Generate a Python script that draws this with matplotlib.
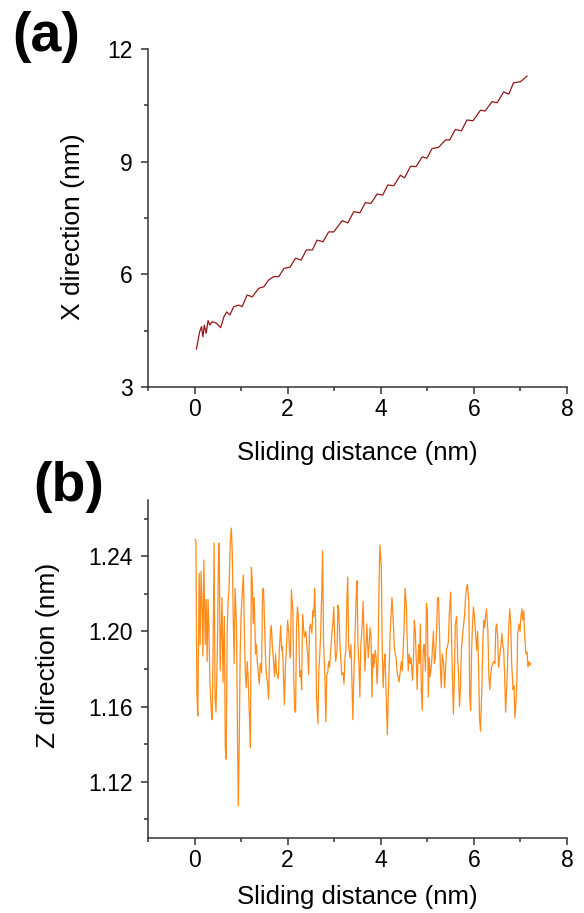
import numpy as np
import matplotlib.pyplot as plt

plt.rcParams['font.family'] = ['Liberation Sans', 'DejaVu Sans']

# (a) X direction vs sliding distance
dist_a = [0.04, 0.07, 0.11, 0.15, 0.18, 0.21, 0.25, 0.29, 0.33, 0.38,
          0.47, 0.56, 0.63, 0.69, 0.76, 0.84, 0.95, 1.02, 1.13, 1.24,
          1.38, 1.49, 1.59, 1.70, 1.81, 1.92, 2.05, 2.17, 2.29, 2.40,
          2.53, 2.63, 2.76, 2.88, 2.99, 3.17, 3.29, 3.42, 3.55, 3.67,
          3.79, 3.92, 4.04, 4.15, 4.28, 4.42, 4.51, 4.64, 4.76, 4.89,
          4.99, 5.10, 5.24, 5.39, 5.48, 5.60, 5.73, 5.85, 5.98, 6.14,
          6.24, 6.39, 6.50, 6.64, 6.75, 6.85, 7.00, 7.14]
x_dir = [4.01, 4.21, 4.47, 4.61, 4.34, 4.65, 4.43, 4.77, 4.65, 4.74,
         4.70, 4.58, 4.87, 5.00, 4.92, 5.14, 5.18, 5.14, 5.45, 5.40,
         5.63, 5.67, 5.85, 5.94, 5.94, 6.16, 6.19, 6.43, 6.38, 6.65,
         6.65, 6.91, 6.87, 7.13, 7.13, 7.43, 7.37, 7.67, 7.64, 7.91,
         7.89, 8.14, 8.11, 8.38, 8.36, 8.64, 8.57, 8.88, 8.87, 9.13,
         9.09, 9.35, 9.38, 9.58, 9.58, 9.86, 9.82, 10.11, 10.09, 10.37,
         10.35, 10.60, 10.57, 10.86, 10.80, 11.10, 11.13, 11.28]

# (b) Z direction vs sliding distance
dist_b = [0.01, 0.03, 0.05, 0.07, 0.10, 0.12, 0.14, 0.16, 0.18, 0.20,
          0.23, 0.25, 0.27, 0.29, 0.31, 0.33, 0.36, 0.38, 0.40, 0.42,
          0.44, 0.46, 0.49, 0.51, 0.53, 0.55, 0.57, 0.59, 0.61, 0.64,
          0.66, 0.68, 0.70, 0.72, 0.74, 0.77, 0.79, 0.81, 0.83, 0.85,
          0.87, 0.90, 0.92, 0.94, 0.96, 0.98, 1.00, 1.03, 1.05, 1.07,
          1.09, 1.11, 1.13, 1.15, 1.18, 1.20, 1.22, 1.24, 1.26, 1.28,
          1.31, 1.33, 1.35, 1.37, 1.39, 1.41, 1.44, 1.46, 1.48, 1.50,
          1.52, 1.54, 1.57, 1.59, 1.61, 1.63, 1.65, 1.67, 1.69, 1.72,
          1.74, 1.76, 1.78, 1.80, 1.82, 1.85, 1.87, 1.89, 1.91, 1.93,
          1.95, 1.98, 2.00, 2.02, 2.04, 2.06, 2.08, 2.11, 2.13, 2.15,
          2.17, 2.19, 2.21, 2.23, 2.26, 2.28, 2.30, 2.32, 2.34, 2.36,
          2.39, 2.41, 2.43, 2.45, 2.47, 2.49, 2.52, 2.54, 2.56, 2.58,
          2.60, 2.62, 2.65, 2.67, 2.69, 2.71, 2.73, 2.75, 2.77, 2.80,
          2.82, 2.84, 2.86, 2.88, 2.90, 2.93, 2.95, 2.97, 2.99, 3.01,
          3.03, 3.06, 3.08, 3.10, 3.12, 3.14, 3.16, 3.19, 3.21, 3.23,
          3.25, 3.27, 3.29, 3.31, 3.34, 3.36, 3.38, 3.40, 3.42, 3.44,
          3.47, 3.49, 3.51, 3.53, 3.55, 3.57, 3.60, 3.62, 3.64, 3.66,
          3.68, 3.70, 3.73, 3.75, 3.77, 3.79, 3.81, 3.83, 3.85, 3.88,
          3.90, 3.92, 3.94, 3.96, 3.98, 4.01, 4.03, 4.05, 4.07, 4.09,
          4.11, 4.14, 4.16, 4.18, 4.20, 4.22, 4.24, 4.27, 4.29, 4.31,
          4.33, 4.35, 4.37, 4.39, 4.42, 4.44, 4.46, 4.48, 4.50, 4.52,
          4.55, 4.57, 4.59, 4.61, 4.63, 4.65, 4.68, 4.70, 4.72, 4.74,
          4.76, 4.78, 4.81, 4.83, 4.85, 4.87, 4.89, 4.91, 4.93, 4.96,
          4.98, 5.00, 5.02, 5.04, 5.06, 5.09, 5.11, 5.13, 5.15, 5.17,
          5.19, 5.22, 5.24, 5.26, 5.28, 5.30, 5.32, 5.35, 5.37, 5.39,
          5.41, 5.43, 5.45, 5.47, 5.50, 5.52, 5.54, 5.56, 5.58, 5.60,
          5.63, 5.65, 5.67, 5.69, 5.71, 5.73, 5.76, 5.78, 5.80, 5.82,
          5.84, 5.86, 5.89, 5.91, 5.93, 5.95, 5.97, 5.99, 6.01, 6.04,
          6.06, 6.08, 6.10, 6.12, 6.14, 6.17, 6.19, 6.21, 6.23, 6.25,
          6.27, 6.30, 6.32, 6.34, 6.36, 6.38, 6.40, 6.43, 6.45, 6.47,
          6.49, 6.51, 6.53, 6.55, 6.58, 6.60, 6.62, 6.64, 6.66, 6.68,
          6.71, 6.73, 6.75, 6.77, 6.79, 6.81, 6.84, 6.86, 6.88, 6.90,
          6.92, 6.94, 6.97, 6.99, 7.01, 7.03, 7.05, 7.07, 7.09, 7.12,
          7.14, 7.16, 7.18, 7.20, 7.22]
z_dir = [1.249, 1.248, 1.167, 1.155, 1.231, 1.193, 1.232, 1.216, 1.187, 1.238,
         1.193, 1.217, 1.184, 1.217, 1.200, 1.173, 1.157, 1.153, 1.194, 1.247,
         1.165, 1.157, 1.190, 1.233, 1.247, 1.179, 1.199, 1.218, 1.173, 1.208,
         1.138, 1.132, 1.200, 1.216, 1.222, 1.249, 1.255, 1.242, 1.208, 1.183,
         1.223, 1.204, 1.151, 1.107, 1.141, 1.189, 1.209, 1.223, 1.230, 1.200,
         1.178, 1.170, 1.184, 1.176, 1.153, 1.138, 1.234, 1.227, 1.204, 1.218,
         1.188, 1.193, 1.183, 1.178, 1.172, 1.183, 1.178, 1.222, 1.223, 1.207,
         1.189, 1.178, 1.172, 1.164, 1.186, 1.200, 1.203, 1.192, 1.186, 1.176,
         1.188, 1.178, 1.177, 1.175,
         1.190, 1.203, 1.190, 1.192, 1.176, 1.161, 1.181, 1.195, 1.206, 1.200,
         1.190, 1.186, 1.222, 1.211, 1.176, 1.158, 1.157, 1.202, 1.213, 1.208,
         1.176, 1.179, 1.169, 1.209, 1.202, 1.197, 1.200, 1.193, 1.188, 1.177,
         1.202, 1.204, 1.199, 1.211, 1.208, 1.223, 1.206, 1.165, 1.151, 1.180,
         1.188, 1.200, 1.219, 1.243, 1.195, 1.174, 1.152, 1.177, 1.178, 1.184,
         1.181, 1.192, 1.199, 1.204, 1.213, 1.197, 1.184, 1.190, 1.214, 1.210,
         1.195, 1.186, 1.177, 1.178, 1.172, 1.186, 1.190, 1.215, 1.229, 1.192,
         1.186, 1.193, 1.173, 1.153, 1.176, 1.192, 1.218, 1.227, 1.193, 1.183,
         1.165, 1.192, 1.204, 1.216, 1.195, 1.179, 1.192, 1.204, 1.186, 1.193,
         1.202, 1.197, 1.165, 1.188, 1.181, 1.190, 1.186, 1.172, 1.184, 1.222,
         1.246, 1.235, 1.192, 1.170, 1.183, 1.188, 1.170, 1.145, 1.165, 1.181,
         1.199, 1.208, 1.218, 1.204, 1.192, 1.188, 1.186, 1.178, 1.176, 1.173,
         1.179, 1.184, 1.179, 1.190, 1.202, 1.223, 1.213, 1.192, 1.179, 1.188,
         1.183, 1.186, 1.174, 1.184, 1.206, 1.200, 1.186, 1.169, 1.193, 1.183,
         1.204, 1.169, 1.158, 1.190, 1.193, 1.179, 1.215, 1.211, 1.165, 1.186,
         1.176, 1.183, 1.192, 1.200, 1.183, 1.186, 1.195, 1.218, 1.218, 1.200,
         1.179, 1.170, 1.188, 1.183, 1.170, 1.179, 1.190, 1.192, 1.194, 1.209,
         1.221, 1.195, 1.174, 1.156, 1.176, 1.204, 1.208, 1.186, 1.177, 1.160,
         1.170, 1.190, 1.199, 1.204, 1.209, 1.218, 1.223, 1.225, 1.216, 1.165,
         1.158, 1.190, 1.204, 1.213, 1.208, 1.197, 1.190, 1.200, 1.181, 1.154,
         1.147, 1.170, 1.193, 1.206, 1.202, 1.208, 1.212, 1.200, 1.177, 1.169,
         1.177, 1.181, 1.183, 1.184, 1.183, 1.202, 1.204, 1.197, 1.181, 1.186,
         1.192, 1.199, 1.193, 1.190, 1.176, 1.157, 1.174, 1.190, 1.204, 1.212,
         1.204, 1.183, 1.169, 1.171, 1.154, 1.161, 1.172, 1.199, 1.204, 1.200,
         1.208, 1.212, 1.206, 1.211, 1.197, 1.188, 1.189, 1.181, 1.184, 1.182,
         1.183]

fig = plt.figure(figsize=(5.84, 9.13), dpi=100)
ax1 = fig.add_axes([0.2534, 0.5761, 0.7176, 0.3702])
ax2 = fig.add_axes([0.2534, 0.0821, 0.7176, 0.3703])

ax1.plot(dist_a, x_dir, color='#931818', lw=0.9)
ax2.plot(dist_b, z_dir, color='#ff8c1a', lw=0.9)

ax1.set_ylim(3, 12)
ax1.set_yticks([3, 6, 9, 12])
ax1.set_yticks([4.5, 7.5, 10.5], minor=True)
ax1.set_ylabel('X direction (nm)', fontsize=19)
ax1.yaxis.set_label_coords(-0.150, 0.475)
ax1.set_xlabel('Sliding distance (nm)', fontsize=18.5, labelpad=14)

ax2.set_ylim(1.09, 1.27)
ax2.set_yticks([1.12, 1.16, 1.20, 1.24])
ax2.set_yticklabels(['1.12', '1.16', '1.20', '1.24'])
ax2.set_yticks([1.10, 1.14, 1.18, 1.22, 1.26], minor=True)
ax2.set_ylabel('Z direction (nm)', fontsize=19)
ax2.yaxis.set_label_coords(-0.21, 0.54)
ax2.set_xlabel('Sliding distance (nm)', fontsize=18.5, labelpad=9)

for ax in (ax1, ax2):
    ax.set_xlim(-1, 8)
    ax.set_xticks([0, 2, 4, 6, 8])
    ax.set_xticks([-1, 1, 3, 5, 7], minor=True)
    ax.spines['top'].set_visible(False)
    ax.spines['right'].set_visible(False)
    for s in ('left', 'bottom'):
        ax.spines[s].set_color('#333333')
        ax.spines[s].set_linewidth(1.1)
    ax.tick_params(which='major', direction='out', length=5, width=1.1,
                   color='#333333', labelsize=16.5, pad=3)
    ax.tick_params(which='minor', direction='out', length=3, width=1.1,
                   color='#333333')
    ax.tick_params(axis='y', which='major', pad=6)

fig.text(0.021, 0.988, '(a)', fontsize=40, fontweight='bold', va='top')
fig.text(0.057, 0.495, '(b)', fontsize=40, fontweight='bold', va='top')

fig.savefig('out.png', dpi=100)
